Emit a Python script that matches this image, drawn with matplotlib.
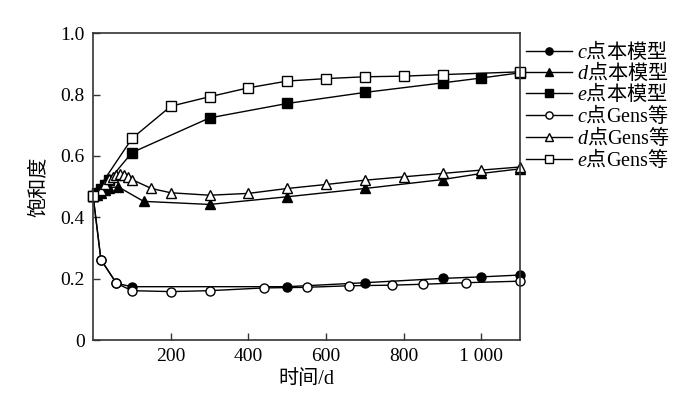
import matplotlib
matplotlib.use('Agg')
import matplotlib.pyplot as plt

plt.rcParams['font.family'] = ['Liberation Serif', 'Noto Sans CJK SC']
plt.rcParams['mathtext.fontset'] = 'custom'
plt.rcParams['mathtext.it'] = 'Liberation Serif:italic'
plt.rcParams['mathtext.rm'] = 'Liberation Serif'
plt.rcParams['mathtext.sf'] = 'Noto Sans CJK SC'

# 本模型
c_x = [0, 20, 60, 100, 500, 700, 900, 1000, 1100]
c_y = [0.468, 0.262, 0.185, 0.174, 0.174, 0.187, 0.201, 0.206, 0.212]
d_x = [0, 10, 20, 30, 40, 65, 130, 300, 500, 700, 900, 1000, 1100]
d_y = [0.468, 0.472, 0.48, 0.49, 0.497, 0.499, 0.452, 0.442, 0.467, 0.494, 0.523, 0.543, 0.558]
e_x = [0, 10, 20, 30, 40, 100, 300, 500, 700, 900, 1000, 1100]
e_y = [0.468, 0.48, 0.492, 0.505, 0.52, 0.611, 0.724, 0.771, 0.807, 0.838, 0.854, 0.871]

# Gens等
cg_x = [0, 20, 60, 100, 200, 300, 440, 550, 660, 770, 850, 960, 1100]
cg_y = [0.468, 0.262, 0.185, 0.161, 0.158, 0.161, 0.170, 0.172, 0.177, 0.179, 0.182, 0.187, 0.192]
dg_x = [0, 20, 30, 40, 50, 60, 70, 80, 90, 100, 150, 200, 300, 400, 500, 600, 700, 800, 900, 1000, 1100]
dg_y = [0.468, 0.49, 0.51, 0.525, 0.532, 0.537, 0.541, 0.537, 0.532, 0.523, 0.494, 0.48, 0.472, 0.478,
        0.494, 0.507, 0.521, 0.532, 0.543, 0.554, 0.564]
eg_x = [0, 100, 200, 300, 400, 500, 600, 700, 800, 900, 1100]
eg_y = [0.468, 0.657, 0.762, 0.793, 0.822, 0.844, 0.852, 0.858, 0.860, 0.865, 0.874]

labels = [r'$c\mathsf{点本模型}$', r'$d\mathsf{点本模型}$', r'$e\mathsf{点本模型}$',
          r'$c\mathsf{点}\mathrm{Gens}\mathsf{等}$', r'$d\mathsf{点}\mathrm{Gens}\mathsf{等}$',
          r'$e\mathsf{点}\mathrm{Gens}\mathsf{等}$']

fig = plt.figure(figsize=(6.8, 3.95), dpi=100)
ax = fig.add_axes([0.137, 0.139, 0.628, 0.777])

ms = 6.5
kw = dict(color='k', lw=1, ms=ms, clip_on=False)
ax.plot(c_x, c_y, '-o', mfc='k', label=labels[0], **kw)
ax.plot(d_x, d_y, '-^', mfc='k', label=labels[1], **kw)
ax.plot(e_x, e_y, '-s', mfc='k', label=labels[2], **kw)
ax.plot(cg_x, cg_y, '-o', mfc='white', label=labels[3], **kw)
ax.plot(dg_x, dg_y, '-^', mfc='white', label=labels[4], **kw)
ax.plot(eg_x, eg_y, '-s', mfc='white', label=labels[5], **kw)

ax.set_xlim(0, 1100)
ax.set_ylim(0, 1.0)
ax.set_xticks([200, 400, 600, 800, 1000])
ax.set_xticklabels(['200', '400', '600', '800', '1 000'])
ax.set_yticks([0, 0.2, 0.4, 0.6, 0.8, 1.0])
ax.set_yticklabels(['0', '0.2', '0.4', '0.6', '0.8', '1.0'])
ax.tick_params(direction='in', length=5, width=1, labelsize=14, color='#333333', pad=6)
for s in ax.spines.values():
    s.set_color('#333333')
    s.set_linewidth(1.2)

ax.set_xlabel('时间/d', fontsize=14.5, labelpad=3)
ax.set_ylabel('饱和度', fontsize=14.5, labelpad=8)

ax.legend(loc='upper left', bbox_to_anchor=(0.995, 1.005), frameon=False, fontsize=14.5,
          handlelength=2.3, labelspacing=-0.1, handletextpad=0.25, borderaxespad=0,
          markerscale=0.8)

fig.savefig('out.png', dpi=100)
